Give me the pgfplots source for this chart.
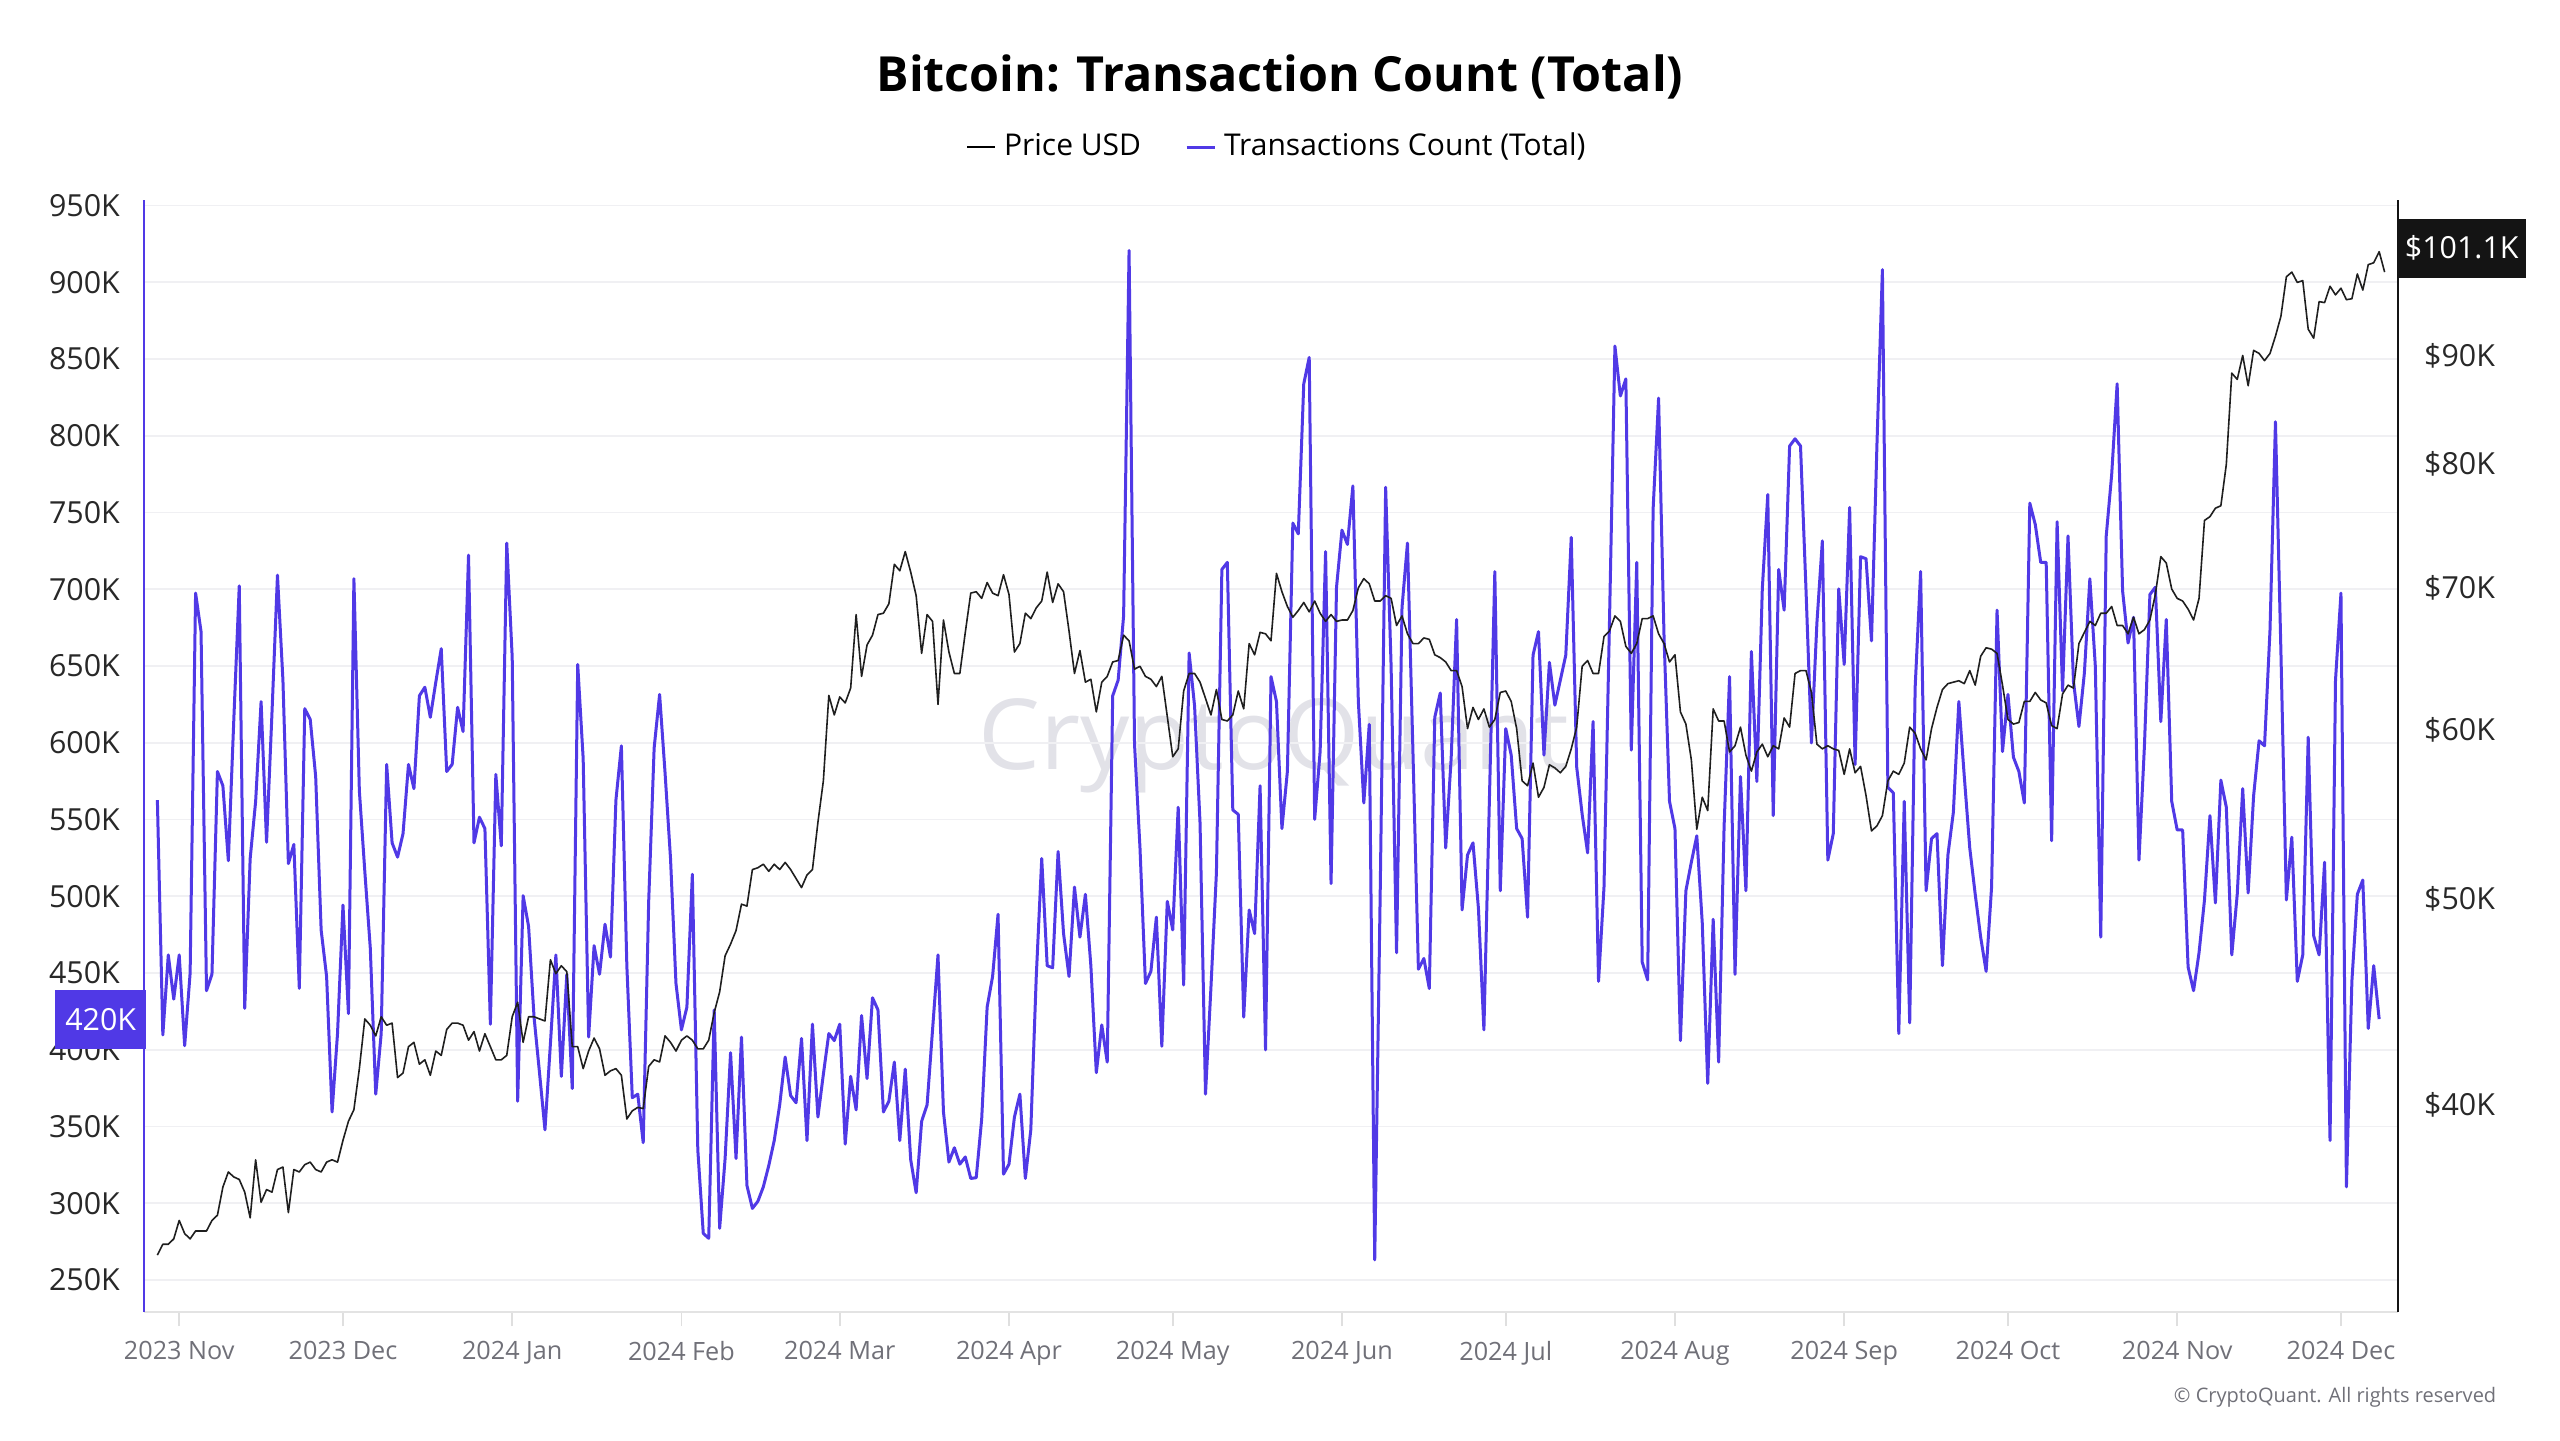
\documentclass[border=0pt]{standalone}
\usepackage{pgfplots}
\pgfplotsset{compat=1.18}
\usepackage{fontspec}
\setmainfont{Open Sans}
\definecolor{txc}{RGB}{80,57,230}
\definecolor{gridc}{RGB}{240,240,243}
\definecolor{labc}{RGB}{40,40,40}
\definecolor{xlabc}{RGB}{112,112,120}
\definecolor{wm}{RGB}{226,226,232}
\begin{document}
\begin{tikzpicture}
\useasboundingbox (0,0) rectangle (640pt,360pt);
\node[font=\fontsize{24.5}{28}\selectfont, text=wm] at (318.5pt,173.5pt) {CryptoQuant};
\node[font=\bfseries\fontsize{12.1}{14}\selectfont] at (320pt,340.8pt) {Bitcoin: Transaction Count (Total)};
\node[font=\fontsize{5.0}{6}\selectfont, text=xlabc, anchor=east, inner sep=0pt] at (624.25pt,10.6pt) {© CryptoQuant. All rights reserved};
\begin{axis}[
  at={(36pt,32pt)}, anchor=south west, scale only axis,
  width=563.5pt, height=277.9pt,
  xmin=-6.45, xmax=406.45, ymin=229.2, ymax=953.3,
  axis x line*=bottom, axis y line*=left,
  x axis line style={draw=gray!22, line width=0.5pt},
  y axis line style={draw=txc, line width=0.7pt},
  xtick={0,30,61,92,121,152,182,213,243,274,305,335,366,396},
  xticklabels={2023 Nov,2023 Dec,2024 Jan,2024 Feb,2024 Mar,2024 Apr,2024 May,2024 Jun,2024 Jul,2024 Aug,2024 Sep,2024 Oct,2024 Nov,2024 Dec},
  xticklabel style={font=\fontsize{6.3}{7.5}\selectfont, text=xlabc, yshift=-0.3pt},
  xtick style={draw=gray!25, line width=0.4pt},
  major tick length=3.5pt, tick align=outside,
  ytick={250,300,350,400,450,500,550,600,650,700,750,800,850,900,950},
  yticklabels={250K,300K,350K,400K,450K,500K,550K,600K,650K,700K,750K,800K,850K,900K,950K},
  yticklabel style={font=\fontsize{7.6}{9}\selectfont, text=labc, xshift=1pt},
  ytick style={draw=none},
  ymajorgrids, grid style={draw=gridc, line width=0.45pt},
  legend columns=2,
  legend style={draw=none, fill=none, at={(0.504,1.0478)}, anchor=center,
    font=\fontsize{7.5}{9}\selectfont,
    /tikz/every even column/.append style={column sep=9pt}},
  legend image code/.code={\draw[#1] (0pt,0pt) -- (7pt,0pt);},
]
\addlegendimage{black, line width=0.4pt}
\addlegendentry{Price USD}
\addplot[txc, line width=0.75pt, line join=round] coordinates {
(-4,562.7)(-3,409.7)(-2,461.8)(-1,433)(0,461.8)(1,402.7)(2,450)(3,697.5)(4,672.4)(5,438.5)
(6,449.2)(7,581.3)(8,572)(9,523.2)(10,615)(11,702.2)(12,427)(13,524.6)(14,561.8)(15,626.8)
(16,535.2)(17,620)(18,709.2)(19,640.8)(20,521.3)(21,533.8)(22,440)(23,622.2)(24,615.2)(25,578)
(26,478)(27,447.8)(28,359.5)(29,410.6)(30,494.3)(31,423.6)(32,706.9)(33,568.7)(34,516.2)(35,466.4)
(36,371.1)(37,410.6)(38,585.9)(39,534.8)(40,525.5)(41,540.8)(42,585.9)(43,570.1)(44,630.6)(45,636.2)
(46,616.6)(47,639.4)(48,661.3)(49,581.3)(50,585.9)(51,623.1)(52,607.3)(53,722.2)(54,534.8)(55,551.5)
(56,544.1)(57,416.7)(58,579.4)(59,532.9)(60,730.1)(61,655.7)(62,366.5)(63,500.4)(64,480.4)(65,421.3)
(66,385.1)(67,347.9)(68,404)(69,461.8)(70,382.7)(71,449.2)(72,374.8)(73,651)(74,589.7)(75,408.3)
(76,467.8)(77,449.2)(78,481.8)(79,460.4)(80,562.7)(81,598)(82,454.8)(83,368.8)(84,371.1)(85,339.5)
(86,496.6)(87,596.6)(88,631.5)(89,580.4)(90,524.6)(91,443.2)(92,413)(93,427.8)(94,514.3)(95,334.8)
(96,280.4)(97,277.2)(98,426)(99,283.7)(100,329.2)(101,398.1)(102,329.2)(103,408.3)(104,311.6)(105,296.7)
(106,301.3)(107,310.7)(108,324.6)(109,340.9)(110,364.1)(111,395.3)(112,370.2)(113,365.5)(114,407.4)(115,340.9)
(116,416.7)(117,356.2)(118,384.1)(119,410.6)(120,406)(121,416.7)(122,338.6)(123,382.7)(124,360.9)(125,422.3)
(126,381.3)(127,433.9)(128,426)(129,359.5)(130,366.5)(131,392)(132,340.9)(133,387.4)(134,328.3)(135,306.9)
(136,353.4)(137,364.1)(138,413)(139,461.8)(140,359.5)(141,326.9)(142,336.2)(143,325.5)(144,330.2)(145,316.2)
(146,316.7)(147,354.8)(148,427.8)(149,447.8)(150,488.3)(151,319)(152,325.5)(153,356.2)(154,371.1)(155,316.2)
(156,347.9)(157,447.8)(158,524.6)(159,454.8)(160,453.4)(161,529.2)(162,475.7)(163,447.8)(164,506)(165,473.4)
(166,501.3)(167,454.8)(168,385.1)(169,416.2)(170,392)(171,630.6)(172,640.8)(173,682.7)(174,920.7)(175,599)
(176,531.5)(177,443.2)(178,451.1)(179,486.4)(180,402.3)(181,496.7)(182,478.1)(183,558)(184,442.2)(185,658.5)
(186,624)(187,547.8)(188,371.1)(189,440.8)(190,515.3)(191,712.9)(192,717.5)(193,556.2)(194,553.4)(195,421.3)
(196,491.1)(197,475.7)(198,572)(199,400)(200,643.1)(201,626.9)(202,544.1)(203,581.3)(204,743.1)(205,736.1)
(206,833.8)(207,851)(208,550.1)(209,594.3)(210,724.5)(211,508.3)(212,701.3)(213,738.5)(214,729.2)(215,767.3)
(216,626.9)(217,560.8)(218,612)(219,263.2)(220,501.3)(221,766.4)(222,650.1)(223,463.2)(224,688.2)(225,730.1)
(226,594.3)(227,452.5)(228,459.5)(229,439.9)(230,616.6)(231,632.4)(232,531.5)(233,589.7)(234,680.3)(235,491.1)
(236,526.9)(237,534.8)(238,492)(239,413)(240,561.8)(241,711.5)(242,503.6)(243,609.2)(244,592)(245,544.1)
(246,537.6)(247,486.4)(248,657.1)(249,672.4)(250,592)(251,652.4)(252,624.5)(253,640.8)(254,657.1)(255,733.8)
(256,584.1)(257,553.4)(258,528.3)(259,613.8)(260,444.6)(261,506)(262,678)(263,858.4)(264,825.9)(265,837)
(266,595.2)(267,717.5)(268,457.1)(269,445.5)(270,752.4)(271,824.5)(272,668.7)(273,561.8)(274,544.1)(275,406)
(276,503.6)(277,522.2)(278,539.4)(279,482.7)(280,378.1)(281,485)(282,392)(283,545.5)(284,643.1)(285,449.2)
(286,578)(287,503.6)(288,659.4)(289,574.8)(290,700.3)(291,761.7)(292,552.5)(293,712.9)(294,686.4)(295,793.3)
(296,798)(297,793.3)(298,700)(299,599.9)(300,678)(301,731.5)(302,523.6)(303,540.8)(304,700.3)(305,651)
(306,753.3)(307,585.9)(308,721.2)(309,719.9)(310,666.4)(311,794.3)(312,908.2)(313,571)(314,567.3)(315,410.6)
(316,561.8)(317,417.6)(318,636.2)(319,711.5)(320,503.6)(321,537.6)(322,540.8)(323,454.8)(324,526.9)(325,554.8)
(326,626.9)(327,578)(328,531.5)(329,501.3)(330,473.4)(331,451.1)(332,506)(333,686.4)(334,594.3)(335,631.5)
(336,590.6)(337,581.3)(338,560.8)(339,756.1)(340,742.2)(341,717.5)(342,717.5)(343,536.2)(344,744)(345,633.8)
(346,734.7)(347,639.9)(348,610.6)(349,645.5)(350,706.8)(351,650.1)(352,473.4)(353,734.7)(354,774.7)(355,833.8)
(356,698.9)(357,665)(358,681.7)(359,523.6)(360,598)(361,696.6)(362,701.3)(363,613.8)(364,680.3)(365,561.8)
(366,543.2)(367,543.2)(368,453.9)(369,438.5)(370,463.2)(371,497.6)(372,552.5)(373,495.7)(374,575.7)(375,558)
(376,461.8)(377,501.3)(378,570.1)(379,502.2)(380,565.5)(381,601.3)(382,598)(383,673.3)(384,809.1)(385,659.4)
(386,497.6)(387,538.5)(388,444.6)(389,461.8)(390,603.6)(391,474.3)(392,461.8)(393,522.2)(394,340.9)(395,640.8)
(396,697.5)(397,310.7)(398,444.6)(399,501.3)(400,510.6)(401,413.9)(402,454.8)(403,420)
};
\addlegendentry{Transactions Count (Total)}
\end{axis}
\begin{axis}[
  at={(36pt,32pt)}, anchor=south west, scale only axis,
  width=563.5pt, height=277.9pt,
  xmin=-6.45, xmax=406.45, ymode=log, ymin=31.97, ymax=106.45,
  axis x line=none, axis y line*=right,
  y axis line style={draw=black!92, line width=0.7pt},
  ytick={40,50,60,70,80,90}, yminorticks=false,
  yticklabels={\$40K,\$50K,\$60K,\$70K,\$80K,\$90K},
  yticklabel style={font=\fontsize{7.6}{9}\selectfont, text=labc, xshift=3pt},
  ytick style={draw=none},
]
\addplot[black!88, line width=0.4pt, line join=round] coordinates {
(-4,34.0)(-3,34.4)(-2,34.4)(-1,34.6)(0,35.3)(1,34.8)(2,34.6)(3,34.9)(4,34.9)(5,34.9)
(6,35.3)(7,35.5)(8,36.6)(9,37.2)(10,37.0)(11,36.9)(12,36.4)(13,35.4)(14,37.7)(15,36.0)
(16,36.5)(17,36.4)(18,37.3)(19,37.4)(20,35.6)(21,37.3)(22,37.2)(23,37.5)(24,37.6)(25,37.3)
(26,37.2)(27,37.6)(28,37.7)(29,37.6)(30,38.5)(31,39.3)(32,39.8)(33,41.6)(34,43.9)(35,43.6)
(36,43.1)(37,44.0)(38,43.6)(39,43.7)(40,41.2)(41,41.4)(42,42.6)(43,42.8)(44,41.8)(45,42.0)
(46,41.3)(47,42.4)(48,42.2)(49,43.4)(50,43.7)(51,43.7)(52,43.6)(53,42.9)(54,43.3)(55,42.4)
(56,43.2)(57,42.6)(58,42.0)(59,42.0)(60,42.2)(61,44.0)(62,44.7)(63,42.8)(64,44.0)(65,44.0)
(66,43.9)(67,43.8)(68,46.8)(69,46.1)(70,46.5)(71,46.2)(72,42.6)(73,42.6)(74,41.6)(75,42.4)
(76,43.0)(77,42.5)(78,41.3)(79,41.5)(80,41.6)(81,41.3)(82,39.4)(83,39.75)(84,39.9)(85,39.85)
(86,41.7)(87,42.0)(88,41.9)(89,43.1)(90,42.8)(91,42.4)(92,42.9)(93,43.1)(94,42.9)(95,42.5)
(96,42.5)(97,42.9)(98,44.2)(99,45.2)(100,47.0)(101,47.6)(102,48.3)(103,49.7)(104,49.6)(105,51.6)
(106,51.7)(107,51.9)(108,51.5)(109,51.9)(110,51.6)(111,52.0)(112,51.6)(113,51.1)(114,50.6)(115,51.3)
(116,51.6)(117,54.3)(118,56.8)(119,62.3)(120,61.0)(121,62.2)(122,61.8)(123,62.8)(124,68.0)(125,63.6)
(126,65.8)(127,66.5)(128,68.0)(129,68.1)(130,68.8)(131,71.8)(132,71.3)(133,72.8)(134,71.2)(135,69.4)
(136,65.2)(137,68.0)(138,67.5)(139,61.7)(140,67.6)(141,65.3)(142,63.8)(143,63.8)(144,66.7)(145,69.6)
(146,69.7)(147,69.2)(148,70.4)(149,69.6)(150,69.4)(151,71.0)(152,69.5)(153,65.3)(154,65.9)(155,68.1)
(156,67.7)(157,68.5)(158,69.0)(159,71.2)(160,68.9)(161,70.3)(162,69.7)(163,66.8)(164,63.8)(165,65.4)
(166,63.2)(167,63.4)(168,61.2)(169,63.2)(170,63.6)(171,64.6)(172,64.7)(173,66.5)(174,66.1)(175,64.1)
(176,64.3)(177,63.6)(178,63.4)(179,62.9)(180,63.6)(181,60.9)(182,58.3)(183,58.8)(184,62.6)(185,63.8)
(186,63.8)(187,63.2)(188,62.1)(189,61.0)(190,62.7)(191,60.7)(192,60.6)(193,61.0)(194,62.6)(195,61.4)
(196,65.9)(197,65.1)(198,66.7)(199,66.6)(200,66.1)(201,71.1)(202,69.7)(203,68.6)(204,67.8)(205,68.3)
(206,68.9)(207,68.2)(208,69.0)(209,68.1)(210,67.5)(211,68.0)(212,67.5)(213,67.6)(214,67.6)(215,68.3)
(216,70.0)(217,70.7)(218,70.3)(219,69.0)(220,69.0)(221,69.4)(222,69.2)(223,67.2)(224,67.9)(225,66.6)
(226,65.9)(227,65.9)(228,66.3)(229,66.2)(230,65.1)(231,64.9)(232,64.6)(233,64.0)(234,64.0)(235,62.9)
(236,60.1)(237,61.5)(238,60.7)(239,61.4)(240,60.2)(241,60.7)(242,62.5)(243,62.6)(244,61.9)(245,60.1)
(246,56.8)(247,56.5)(248,57.9)(249,55.8)(250,56.4)(251,57.8)(252,57.6)(253,57.3)(254,57.7)(255,58.8)
(256,60.2)(257,64.3)(258,64.7)(259,63.8)(260,63.8)(261,66.4)(262,66.8)(263,67.9)(264,67.5)(265,65.7)
(266,65.2)(267,65.9)(268,67.7)(269,67.7)(270,67.9)(271,66.6)(272,65.9)(273,64.6)(274,65.1)(275,61.2)
(276,60.4)(277,58.1)(278,53.9)(279,55.8)(280,55.0)(281,61.4)(282,60.6)(283,60.6)(284,58.6)(285,59.0)
(286,60.2)(287,58.4)(288,57.4)(289,58.6)(290,59.1)(291,58.3)(292,59.0)(293,58.8)(294,60.8)(295,60.2)
(296,63.8)(297,64.0)(298,64.0)(299,62.5)(300,59.1)(301,58.8)(302,59.0)(303,58.8)(304,58.7)(305,57.2)
(306,58.8)(307,57.3)(308,57.7)(309,55.9)(310,53.8)(311,54.1)(312,54.7)(313,56.8)(314,57.4)(315,57.2)
(316,57.9)(317,60.2)(318,59.8)(319,58.8)(320,58.1)(321,60.1)(322,61.5)(323,62.7)(324,63.1)(325,63.2)
(326,63.3)(327,63.1)(328,64.0)(329,63.0)(330,65.0)(331,65.6)(332,65.5)(333,65.2)(334,63.0)(335,60.7)
(336,60.4)(337,60.5)(338,61.9)(339,61.9)(340,62.5)(341,62.0)(342,61.8)(343,60.3)(344,60.1)(345,62.4)
(346,63.0)(347,62.8)(348,65.9)(349,66.7)(350,67.5)(351,67.2)(352,68.1)(353,68.1)(354,68.6)(355,67.2)
(356,67.2)(357,66.6)(358,67.8)(359,66.6)(360,66.9)(361,67.6)(362,69.5)(363,72.4)(364,71.9)(365,69.9)
(366,69.2)(367,69.0)(368,68.4)(369,67.6)(370,69.2)(371,75.3)(372,75.6)(373,76.3)(374,76.5)(375,80.0)
(376,88.3)(377,87.7)(378,90.0)(379,87.1)(380,90.5)(381,90.2)(382,89.5)(383,90.2)(384,91.9)(385,93.9)
(386,98.0)(387,98.5)(388,97.4)(389,97.6)(390,92.6)(391,91.7)(392,95.4)(393,95.3)(394,97.0)(395,96.1)
(396,96.8)(397,95.6)(398,95.7)(399,98.3)(400,96.6)(401,99.3)(402,99.5)(403,100.7)(404,98.5)
};
\end{axis}
\node[fill=txc, text=white, anchor=east, minimum width=22.75pt, minimum height=14.75pt, inner sep=0pt, font=\fontsize{7.6}{9}\selectfont] at (36.75pt,105.2pt) {420K};
\node[fill=black!92, text=white, anchor=west, minimum width=32.25pt, minimum height=14.75pt, inner sep=0pt, font=\fontsize{7.6}{9}\selectfont] at (599.1pt,298pt) {\$101.1K};
\end{tikzpicture}
\end{document}
